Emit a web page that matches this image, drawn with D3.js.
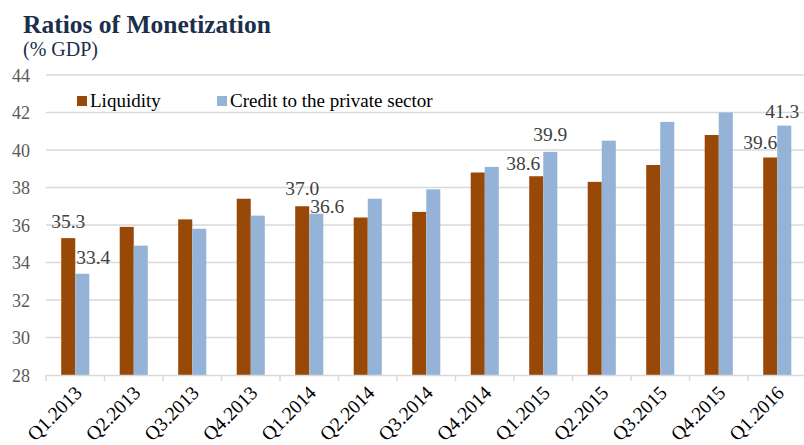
<!DOCTYPE html>
<html>
<head>
<meta charset="utf-8">
<script src="https://cdn.jsdelivr.net/npm/d3@7/dist/d3.min.js"></script>
<style>
  body { margin: 0; background: #fff; }
  svg { display: block; }
</style>
</head>
<body>
<svg id="chart"></svg>
<script>
var quarters = ['Q1.2013', 'Q2.2013', 'Q3.2013', 'Q4.2013', 'Q1.2014', 'Q2.2014', 'Q3.2014',
                'Q4.2014', 'Q1.2015', 'Q2.2015', 'Q3.2015', 'Q4.2015', 'Q1.2016'];
var liquidity = [35.3, 35.9, 36.3, 37.4, 37.0, 36.4, 36.7, 38.8, 38.6, 38.3, 39.2, 40.8, 39.6];
var credit    = [33.4, 34.9, 35.8, 36.5, 36.6, 37.4, 37.9, 39.1, 39.9, 40.5, 41.5, 42.0, 41.3];
var seriesNames = ['Liquidity', 'Credit to the private sector'];
var yTicks = [28, 30, 32, 34, 36, 38, 40, 42, 44];

(function () {
    'use strict';

    var width = 804, height = 445;
    var left = 46, top = 75, bottom = 375;
    var colors = ['#984807', '#95b3d7'];
    var serif = '"Liberation Serif", "DejaVu Serif", serif';

    // which bars carry a value label, with hand nudges like the original
    var labelNudge = {
        '0-0': [0, -10], '0-1': [11, -10],
        '4-0': [0, -11], '4-1': [11, -1],
        '8-0': [-13, -6], '8-1': [0, -11],
        '12-0': [-10, -9], '12-1': [-2, -8]
    };

    var svg = d3.select('#chart')
        .attr('width', width)
        .attr('height', height);

    var x = d3.scaleBand()
        .domain(quarters)
        .range([left, left + quarters.length * 58.5])
        .padding(0);

    var bw = x.bandwidth() * 0.24;
    var x1 = d3.scaleBand()
        .domain([0, 1])
        .range([x.bandwidth() / 2 - bw, x.bandwidth() / 2 + bw]);

    var y = d3.scaleLinear()
        .domain([28, 44])
        .range([bottom, top]);

    // title
    svg.append('text')
        .attr('x', 23).attr('y', 33)
        .attr('font-family', serif)
        .attr('font-size', 25.5)
        .attr('font-weight', 'bold')
        .attr('fill', '#1b2f4b')
        .text('Ratios of Monetization');

    svg.append('text')
        .attr('x', 23).attr('y', 56)
        .attr('font-family', serif)
        .attr('font-size', 20)
        .attr('fill', '#1b2f4b')
        .text('(% GDP)');

    // gridlines
    svg.append('g')
        .selectAll('line')
        .data(yTicks.slice(1))
        .enter().append('line')
        .attr('x1', left).attr('x2', width)
        .attr('y1', function (d) { return y(d); })
        .attr('y2', function (d) { return y(d); })
        .attr('stroke', '#d9d9d9')
        .attr('stroke-width', 1.5);

    // y axis labels
    var yAxis = svg.append('g')
        .attr('transform', 'translate(' + (left - 16) + ',0)')
        .call(d3.axisLeft(y).tickValues(yTicks).tickSize(0).tickPadding(0));
    yAxis.select('.domain').remove();
    yAxis.selectAll('text')
        .attr('font-family', serif)
        .attr('font-size', 18)
        .attr('fill', '#595959')
        .attr('dy', '0.35em');

    // bars
    var data = [liquidity, credit];
    data.forEach(function (vals, s) {
        svg.append('g')
            .selectAll('rect')
            .data(vals)
            .enter().append('rect')
            .attr('x', function (d, i) { return x(quarters[i]) + x1(s); })
            .attr('y', function (d) { return y(d); })
            .attr('width', x1.bandwidth())
            .attr('height', function (d) { return y(28) - y(d); })
            .attr('fill', colors[s]);
    });

    // x axis
    var xAxis = svg.append('g')
        .attr('transform', 'translate(0,' + bottom + ')')
        .call(d3.axisBottom(x).tickSize(0).tickFormat(''));
    xAxis.select('.domain')
        .attr('stroke', '#d9d9d9')
        .attr('stroke-width', 1.5);

    svg.append('g')
        .selectAll('line')
        .data(quarters)
        .enter().append('line')
        .attr('x1', function (d) { return x(d); })
        .attr('x2', function (d) { return x(d); })
        .attr('y1', bottom).attr('y2', bottom + 6)
        .attr('stroke', '#d9d9d9')
        .attr('stroke-width', 1.5);

    svg.append('g')
        .selectAll('text')
        .data(quarters)
        .enter().append('text')
        .attr('transform', function (d) {
            return 'translate(' + (x(d) + x.bandwidth() / 2 + 8) + ',' + (bottom + 19) + ')rotate(-45)';
        })
        .attr('text-anchor', 'end')
        .attr('font-family', serif)
        .attr('font-size', 19.5)
        .attr('fill', '#000')
        .text(function (d) { return d; });

    // value labels
    var labels = [];
    data.forEach(function (vals, s) {
        vals.forEach(function (v, i) {
            var n = labelNudge[i + '-' + s];
            if (n) labels.push({ v: v, i: i, s: s, dx: n[0], dy: n[1] });
        });
    });

    svg.append('g')
        .selectAll('text')
        .data(labels)
        .enter().append('text')
        .attr('x', function (d) { return x(quarters[d.i]) + x1(d.s) + x1.bandwidth() / 2 + d.dx; })
        .attr('y', function (d) { return y(d.v) + d.dy; })
        .attr('text-anchor', 'middle')
        .attr('font-family', serif)
        .attr('font-size', 19.5)
        .attr('fill', '#404040')
        .text(function (d) { return d.v.toFixed(1); });

    // legend
    var legendX = [77, 217];
    var legend = svg.append('g');
    seriesNames.forEach(function (name, s) {
        legend.append('rect')
            .attr('x', legendX[s]).attr('y', 96)
            .attr('width', 10).attr('height', 10)
            .attr('fill', colors[s]);
        legend.append('text')
            .attr('x', legendX[s] + 13).attr('y', 107)
            .attr('font-family', serif)
            .attr('font-size', 19)
            .attr('fill', '#000')
            .text(name);
    });
})();
</script>
</body>
</html>
